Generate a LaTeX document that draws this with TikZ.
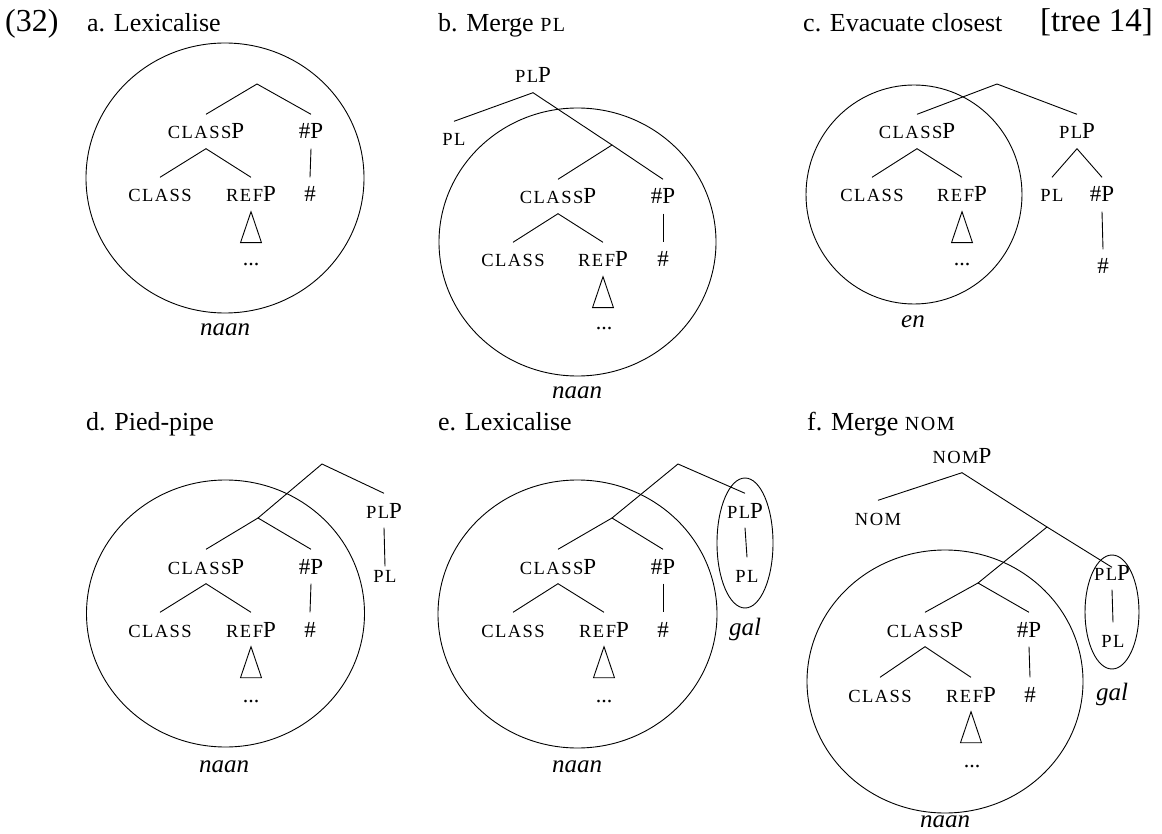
\documentclass[tikz,border=0pt]{standalone}
\usepackage{fontspec}
\setmainfont{Liberation Serif}
\newfontfamily\scfont[LetterSpace=8]{Liberation Serif}
\newcommand\smc[1]{{\scfont\fontsize{18.5}{18.5}\selectfont #1}}
\newcommand\hsmc[1]{{\scfont\fontsize{20}{20}\selectfont #1}}
\begin{document}
\begin{tikzpicture}[x=1pt,y=-1pt,
  tn/.style={inner xsep=1pt, inner ysep=9.5pt, text height=15pt, text depth=0pt, anchor=base, font=\fontsize{23}{23}\selectfont},
  head/.style={inner sep=0pt, anchor=base west, font=\fontsize{26}{26}\selectfont},
  big/.style={inner sep=0pt, anchor=base west, font=\fontsize{32}{32}\selectfont},
  word/.style={inner sep=0pt, anchor=base, font=\fontsize{25}{25}\selectfont\itshape},
  dotsn/.style={inner sep=0pt, anchor=base, font=\fontsize{22}{22}\selectfont},
  edge/.style={line width=0.9pt},
  ring/.style={line width=0.9pt},
  tri/.style={line width=0.9pt},
]
\useasboundingbox (0,0) rectangle (1162,834);

% ---------- panel a ----------
\node[big] (lbl) at (5,32) {(32)};
\node[head] (ha) at (87,32) {a. Lexicalise};
\draw[ring] (225,178) ellipse [x radius=139pt, y radius=135pt];
\coordinate (a-top) at (257,84);
\node[tn] (a-cp) at (206,139) {\smc{CLASS}P};
\node[tn] (a-np) at (311,139) {\#P};
\node[tn] (a-c) at (160,202) {\smc{CLASS}};
\node[tn] (a-rp) at (251,202) {\smc{REF}P};
\node[tn] (a-n) at (310,202) {\#};
\node[dotsn] (a-d) at (251,266) {...};
\node[word] (a-w) at (225,335) {naan};
\draw[edge] (a-cp.north) -- (a-top) -- (a-np.north);
\draw[edge] (a-c.north) -- (a-cp.south) -- (a-rp.north);
\draw[edge] (a-np.south) -- (a-n.north);
\draw[tri] (a-rp.south) -- ++(-10.5,31) -- ++(21,0) -- cycle;

% ---------- panel b ----------
\node[head] (hb) at (438,32) {b. Merge \hsmc{PL}};
\draw[ring] (577.5,242) ellipse [x radius=138.5pt, y radius=134pt];
\node[tn] (b-plp) at (533,83) {\smc{PL}P};
\node[tn] (b-pl) at (454,146) {\smc{PL}};
\coordinate (b-top) at (612,145);
\node[tn] (b-cp) at (558,204) {\smc{CLASS}P};
\node[tn] (b-np) at (663,204) {\#P};
\node[tn] (b-c) at (513,267) {\smc{CLASS}};
\node[tn] (b-rp) at (603,267) {\smc{REF}P};
\node[tn] (b-n) at (663,267) {\#};
\node[dotsn] (b-d) at (604,330) {...};
\node[word] (b-w) at (577,398) {naan};
\draw[edge] (b-pl.north) -- (b-plp.south) -- (b-top);
\draw[edge] (b-cp.north) -- (b-top) -- (b-np.north);
\draw[edge] (b-c.north) -- (b-cp.south) -- (b-rp.north);
\draw[edge] (b-np.south) -- (b-n.north);
\draw[tri] (b-rp.south) -- ++(-10.5,31) -- ++(21,0) -- cycle;

% ---------- panel c ----------
\node[head] (hc) at (803,32) {c. Evacuate closest};
\node[big,font=\fontsize{33}{33}\selectfont] (tag) at (1040,32) {[tree 14]};
\draw[ring] (914,194.5) ellipse [x radius=108pt, y radius=109.5pt];
\coordinate (c-top) at (997,84);
\node[tn] (c-cp) at (917,139) {\smc{CLASS}P};
\node[tn] (c-plp) at (1077,139) {\smc{PL}P};
\node[tn] (c-c) at (872,202) {\smc{CLASS}};
\node[tn] (c-rp) at (962,202) {\smc{REF}P};
\node[tn] (c-pl) at (1052,202) {\smc{PL}};
\node[tn] (c-np) at (1102,202) {\#P};
\node[tn] (c-n) at (1103,274) {\#};
\node[dotsn] (c-d) at (962,266) {...};
\node[word] (c-w) at (913,327) {en};
\draw[edge] (c-cp.north) -- (c-top) -- (c-plp.north);
\draw[edge] (c-c.north) -- (c-cp.south) -- (c-rp.north);
\draw[edge] (c-pl.north) -- (c-plp.south) -- (c-np.north);
\draw[edge] (c-np.south) -- (c-n.north);
\draw[tri] (c-rp.south) -- ++(-10.5,31) -- ++(21,0) -- cycle;

% ---------- panel d ----------
\node[head] (hd) at (86,430) {d. Pied-pipe};
\draw[ring] (225.5,613.5) ellipse [x radius=139pt, y radius=133.5pt];
\coordinate (d-top) at (322,464);
\coordinate (d-mid) at (258,518);
\node[tn] (d-plp) at (384,518) {\smc{PL}P};
\node[tn] (d-pl) at (385,582) {\smc{PL}};
\node[tn] (d-cp) at (206,574) {\smc{CLASS}P};
\node[tn] (d-np) at (311,574) {\#P};
\node[tn] (d-c) at (160,637) {\smc{CLASS}};
\node[tn] (d-rp) at (251,637) {\smc{REF}P};
\node[tn] (d-n) at (310,637) {\#};
\node[dotsn] (d-d) at (251,702) {...};
\node[word] (d-w) at (224,772) {naan};
\draw[edge] (d-mid) -- (d-top) -- (d-plp.north);
\draw[edge] (d-plp.south) -- ([yshift=-9pt]d-pl.north);
\draw[edge] (d-cp.north) -- (d-mid) -- (d-np.north);
\draw[edge] (d-c.north) -- (d-cp.south) -- (d-rp.north);
\draw[edge] (d-np.south) -- (d-n.north);
\draw[tri] (d-rp.south) -- ++(-10.5,31) -- ++(21,0) -- cycle;

% ---------- panel e ----------
\node[head] (he) at (438,430) {e. Lexicalise};
\draw[ring] (577.5,614) ellipse [x radius=139.5pt, y radius=134pt];
\draw[ring] (745,543) ellipse [x radius=28pt, y radius=65pt];
\coordinate (e-top) at (678,464);
\coordinate (e-mid) at (612,518);
\node[tn] (e-plp) at (745,518) {\smc{PL}P};
\node[tn] (e-pl) at (747,582) {\smc{PL}};
\node[tn] (e-cp) at (558,574) {\smc{CLASS}P};
\node[tn] (e-np) at (663,574) {\#P};
\node[tn] (e-c) at (513,637) {\smc{CLASS}};
\node[tn] (e-rp) at (604,637) {\smc{REF}P};
\node[tn] (e-n) at (663,637) {\#};
\node[dotsn] (e-d) at (604,702) {...};
\node[word] (e-w) at (577,772) {naan};
\node[word] (e-g) at (745,635) {gal};
\draw[edge] (e-mid) -- (e-top) -- (e-plp.north);
\draw[edge] (e-plp.south) -- (e-pl.north);
\draw[edge] (e-cp.north) -- (e-mid) -- (e-np.north);
\draw[edge] (e-c.north) -- (e-cp.south) -- (e-rp.north);
\draw[edge] (e-np.south) -- (e-n.north);
\draw[tri] (e-rp.south) -- ++(-10.5,31) -- ++(21,0) -- cycle;

% ---------- panel f ----------
\node[head] (hf) at (807,430) {f. Merge \hsmc{NOM}};
\draw[ring] (945,681.5) ellipse [x radius=138pt, y radius=131.5pt];
\draw[ring] (1112,612) ellipse [x radius=27pt, y radius=57pt];
\node[tn] (f-nomp) at (962,463) {\smc{NOM}P};
\node[tn] (f-nom) at (878,525) {\smc{NOM}};
\coordinate (f-top) at (1047,527);
\coordinate (f-mid) at (978,583);
\node[tn] (f-plp) at (1112,580) {\smc{PL}P};
\node[tn] (f-pl) at (1113,647) {\smc{PL}};
\node[tn] (f-cp) at (925,637) {\smc{CLASS}P};
\node[tn] (f-np) at (1029,637) {\#P};
\node[tn] (f-c) at (880,702) {\smc{CLASS}};
\node[tn] (f-rp) at (971,702) {\smc{REF}P};
\node[tn] (f-n) at (1030,702) {\#};
\node[dotsn] (f-d) at (972,767) {...};
\node[word] (f-w) at (945,827) {naan};
\node[word] (f-g) at (1112,700) {gal};
\draw[edge] (f-nom.north) -- (f-nomp.south) -- (f-top);
\draw[edge] (f-mid) -- (f-top) -- ([yshift=-12pt]f-plp.north);
\draw[edge] (f-plp.south) -- (f-pl.north);
\draw[edge] (f-cp.north) -- (f-mid) -- (f-np.north);
\draw[edge] (f-c.north) -- (f-cp.south) -- (f-rp.north);
\draw[edge] (f-np.south) -- (f-n.north);
\draw[tri] (f-rp.south) -- ++(-10.5,31) -- ++(21,0) -- cycle;
\end{tikzpicture}
\end{document}
